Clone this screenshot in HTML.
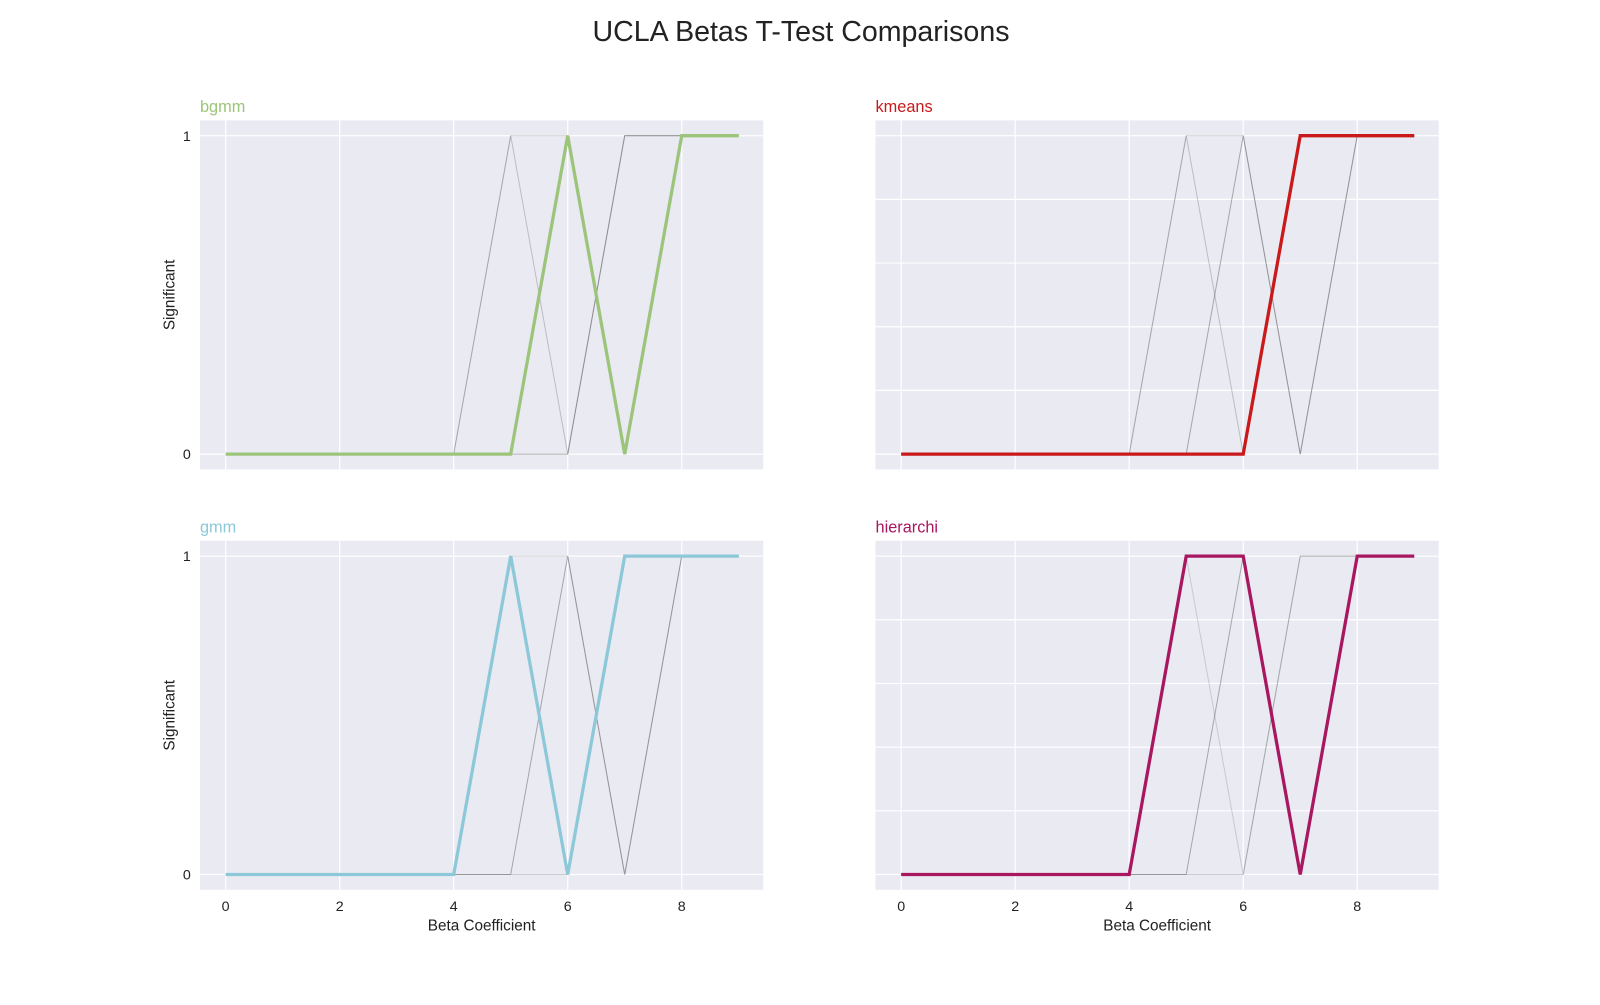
<!DOCTYPE html>
<html><head><meta charset="utf-8"><style>
body{margin:0;background:#fff;font-family:"Liberation Sans",sans-serif;}
</style></head><body>
<svg width="1600" height="1000" xmlns="http://www.w3.org/2000/svg" font-family="Liberation Sans, sans-serif">
<g id="chart" transform="scale(1.0204)">
<text x="785" y="40" text-anchor="middle" font-size="28" fill="#222">UCLA Betas T-Test Comparisons</text>
</g>
</svg>
<script>
const xValues = [0,1,2,3,4,5,6,7,8,9];
const seriesNames = ["bgmm","kmeans","gmm","hierarchi"];
const bgmmValues = [0,0,0,0,0,0,1,0,1,1];
const kmeansValues = [0,0,0,0,0,0,0,1,1,1];
const gmmValues = [0,0,0,0,0,1,0,1,1,1];
const hierarchiValues = [0,0,0,0,0,1,1,0,1,1];
const xTicks = [0,2,4,6,8];
const yTicks = [0,1];
const colors = ["#9cc47a","#c9191a","#8cc8d8","#a8175f"];
const allValues = [bgmmValues,kmeansValues,gmmValues,hierarchiValues];
const svg = document.getElementById('chart');
const NS = "http://www.w3.org/2000/svg";
function mk(tag, attrs, parent){const e=document.createElementNS(NS,tag);for(const k in attrs)e.setAttribute(k,attrs[k]);(parent||svg).appendChild(e);return e;}
const panels = [{x:196,y:118},{x:858,y:118},{x:196,y:530},{x:858,y:530}];
const W=552,H=342, xmin=-0.45,xmax=9.43, ymin=-0.048,ymax=1.048;
panels.forEach((p,i)=>{
  const sx=v=>p.x+(v-xmin)/(xmax-xmin)*W;
  const sy=v=>p.y+H-(v-ymin)/(ymax-ymin)*H;
  const g=mk('g',{});
  
  
  const bg=mk('rect',{x:p.x,y:p.y,width:W,height:H,fill:'#eaeaf2'},g);
  
  
  const right = i%2===1, bottom = i>=2;
  const hgrid = right ? [0,0.2,0.4,0.6,0.8,1] : yTicks;
  hgrid.forEach(v=>{const l=mk('line',{x1:p.x,x2:p.x+W,y1:sy(v),y2:sy(v),stroke:'#fff','stroke-width':1.2},g);
    });
  xTicks.forEach(v=>{const l=mk('line',{x1:sx(v),x2:sx(v),y1:p.y,y2:p.y+H,stroke:'#fff','stroke-width':1.2},g);
    
    if(bottom){const t=mk('text',{x:sx(v),y:p.y+H+21,'text-anchor':'middle','font-size':14,fill:'#222'},g);t.textContent=v;
      }});
  if(!right){yTicks.forEach(v=>{const t=mk('text',{x:p.x-9,y:sy(v)+5,'text-anchor':'end','font-size':14,fill:'#222'},g);t.textContent=v;
      });
    const yl=mk('text',{x:0,y:0,transform:`translate(171,${p.y+H/2}) rotate(-90)`,'text-anchor':'middle','font-size':15,fill:'#222'},g);
    yl.textContent='Significant';}
  if(bottom){const xl=mk('text',{x:p.x+W/2,y:p.y+H+40,'text-anchor':'middle','font-size':15,fill:'#222'},g);
    xl.textContent='Beta Coefficient';}
  const tt=mk('text',{x:p.x,y:p.y-8,'font-size':16,fill:colors[i]},g);tt.textContent=seriesNames[i];
  
  const greyOp=[0.45,0.3,0.22];let gi=0;
  allValues.forEach((vals,j)=>{if(j===i)return;
    const pts=vals.map((v,k)=>sx(xValues[k])+','+sy(v)).join(' ');
    const pl=mk('polyline',{points:pts,fill:'none',stroke:'#555','stroke-opacity':greyOp[gi++],'stroke-width':1},g);
    });
  const pts=allValues[i].map((v,k)=>sx(xValues[k])+','+sy(v)).join(' ');
  const main=mk('polyline',{points:pts,fill:'none',stroke:colors[i],'stroke-width':3.2,'stroke-linejoin':'miter'},g);
  
});
</script>
</body></html>
